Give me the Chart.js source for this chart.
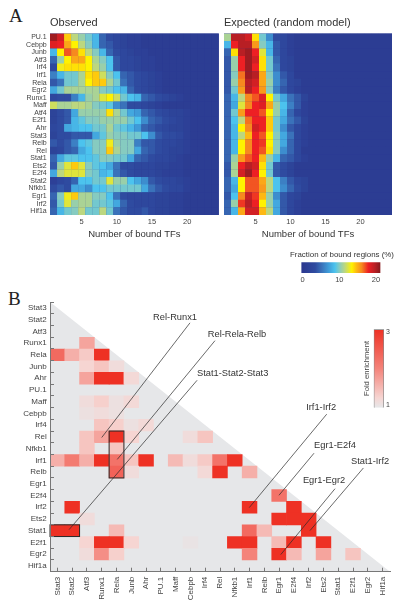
<!DOCTYPE html>
<html>
<head>
<meta charset="utf-8">
<script src="https://cdn.jsdelivr.net/npm/chart.js@4"></script>
<style>
  html, body { margin: 0; padding: 0; background: #fff; }
  body { position: relative; width: 402px; height: 609px; overflow: hidden; }
  canvas { position: absolute; }
  .letter { position: absolute; font-family: "Liberation Serif", serif; color: #222; line-height: 1; }
</style>
</head>
<body>
<div class="letter" style="left:9px;top:6px;font-size:19px">A</div>
<div class="letter" style="left:8px;top:289px;font-size:19px">B</div>
<canvas id="observed" width="222" height="226" style="left:0;top:14px"></canvas>
<canvas id="expected" width="180" height="226" style="left:222px;top:14px"></canvas>
<canvas id="fractionBar" width="120" height="38" style="left:282px;top:248px"></canvas>
<canvas id="enrichment" width="402" height="319" style="left:0;top:290px"></canvas>
<canvas id="foldBar" width="40" height="94" style="left:358px;top:322px"></canvas>
<script>
const FONT = 'Liberation Sans';
const TEXT = '#444';

// panel A
const tfRows = ['PU.1', 'Cebpb', 'Junb', 'Atf3', 'Irf4', 'Irf1', 'Rela', 'Egr2', 'Runx1', 'Maff', 'Atf4', 'E2f1',
  'Ahr', 'Stat3', 'Relb', 'Rel', 'Stat1', 'Ets2', 'E2f4', 'Stat2', 'Nfkb1', 'Egr1', 'Irf2', 'Hif1a'];
const boundTicks = [5, 10, 15, 20];

const observed = [
  [20.4, 18.8, 14.3, 11.5, 10.5, 9.6, 8.2, 4.6, 3.4, 2.7, 2, 1.4, 1.4, 0.7, 0.7, 0.7, 0.7, 0.7, 0.7, 0.7, 0.7, 0.7, 0.7, 0.7],
  [18.4, 17.9, 15.2, 13.4, 11.5, 10, 8.2, 4.6, 4, 2.7, 2, 1.4, 1.4, 0.7, 0.7, 0.7, 0.7, 0.7, 0.7, 0.7, 0.7, 0.7, 0.7, 0.7],
  [8.2, 13.4, 17, 16.1, 13.8, 11.5, 10, 8.2, 4.6, 3.4, 2.7, 2, 1.4, 1.4, 0.7, 0.7, 0.7, 0.7, 0.7, 0.7, 0.7, 0.7, 0.7, 0.7],
  [4.6, 10.5, 13.4, 15.2, 15.2, 13.4, 11, 10, 8.8, 4, 2.7, 2.7, 2, 1.4, 1.4, 0.7, 0.7, 0.7, 0.7, 0.7, 0.7, 0.7, 0.7, 0.7],
  [2.7, 13, 13.8, 13.8, 13.8, 13.4, 11.5, 10.5, 8.8, 4, 2.7, 2.7, 2, 1.4, 1.4, 0.7, 0.7, 0.7, 0.7, 0.7, 0.7, 0.7, 0.7, 0.7],
  [5.8, 8.2, 9.6, 9.6, 11, 13.8, 14.3, 12, 10, 8.8, 4.6, 4, 3.4, 2.7, 2, 1.4, 0.7, 0.7, 0.7, 0.7, 0.7, 0.7, 0.7, 0.7],
  [4, 5.2, 9.6, 9.6, 11, 13.4, 14.3, 14.3, 11, 9.6, 5.2, 4, 3.4, 2.7, 2, 1.4, 0.7, 0.7, 0.7, 0.7, 0.7, 0.7, 0.7, 0.7],
  [7.6, 9.6, 11, 11, 11, 11, 11, 10, 9.6, 8.8, 8.2, 4.6, 3.4, 2.7, 2, 1.4, 0.7, 0.7, 0.7, 0.7, 0.7, 0.7, 0.7, 0.7],
  [2.7, 3.4, 3.4, 5.8, 8.2, 10.5, 11, 12.5, 13.4, 12, 9.6, 8.8, 8.2, 4.6, 4, 3.4, 2.7, 2, 1.4, 0.7, 0.7, 0.7, 0.7, 0.7],
  [12, 11, 11, 11.5, 11.5, 11, 10, 9.6, 9.2, 6.4, 5.2, 3.4, 3.4, 2.7, 2, 1.4, 0.7, 0.7, 0.7, 0.7, 0.7, 0.7, 0.7, 0.7],
  [2, 3.4, 4, 7.6, 10.5, 10.5, 10.5, 10.5, 13.8, 11, 9.6, 7.6, 7, 4.6, 4, 3.4, 2.7, 2, 2, 1.4, 0.7, 0.7, 0.7, 0.7],
  [2, 3.4, 4, 8.2, 9.2, 10, 10, 10.5, 10.5, 10.5, 10.5, 9.6, 8.8, 6.4, 4.6, 4, 3.4, 2.7, 2, 1.4, 0.7, 0.7, 0.7, 0.7],
  [2.7, 3.4, 7.6, 8.2, 8.8, 8.8, 9.6, 9.6, 11, 9.6, 9.2, 8.2, 7, 4.6, 4, 3.4, 2.7, 2, 2, 1.4, 0.7, 0.7, 0.7, 0.7],
  [2, 3.4, 3.4, 4, 4, 4, 7.6, 9.2, 10.5, 10, 10, 9.6, 9.6, 8.8, 6.4, 4, 3.4, 3.4, 2.7, 1.4, 0.7, 0.7, 0.7, 0.7],
  [4, 3.4, 4, 5.8, 8.8, 9.2, 10, 10, 13, 10.5, 10, 10, 5.8, 4, 4, 3.4, 2.7, 2.7, 2, 1.4, 0.7, 0.7, 0.7, 0.7],
  [2, 2.7, 4, 4.6, 7.6, 8.8, 10, 10, 14.3, 11, 10, 10, 7.6, 4.6, 4, 3.4, 2.7, 2, 2, 1.4, 0.7, 0.7, 0.7, 0.7],
  [4.6, 7.6, 9.2, 9.2, 8.8, 8.8, 9.2, 10, 10, 9.6, 9.6, 7.6, 4.6, 4, 3.4, 2.7, 2.7, 2, 1.4, 0.7, 0.7, 0.7, 0.7, 0.7],
  [4, 10.5, 12.5, 14.3, 12.5, 10, 9.2, 8.8, 7.6, 5.2, 3.4, 3.4, 2.7, 2.7, 2.7, 2, 2, 1.4, 1.4, 0.7, 0.7, 0.7, 0.7, 0.7],
  [7.6, 11.5, 12.5, 12.5, 12.5, 10, 9.6, 8.2, 8.8, 5.2, 4, 3.4, 2.7, 2.7, 2.7, 2, 1.4, 1.4, 1.4, 0.7, 0.7, 0.7, 0.7, 0.7],
  [1.4, 2.7, 3.4, 4.6, 8.8, 8.8, 9.6, 9.6, 12.5, 10.5, 10.5, 8.8, 7.6, 6.4, 4, 3.4, 2.7, 2.7, 2, 1.4, 0.7, 0.7, 0.7, 0.7],
  [3.4, 4, 3.4, 7.6, 7.6, 6.4, 8.8, 8.8, 9.6, 9.6, 9.6, 9.6, 9.6, 7.6, 5.2, 4, 3.4, 2.7, 2.7, 1.4, 0.7, 0.7, 0.7, 0.7],
  [4.6, 10, 13, 14.3, 11, 11, 10, 10, 8.8, 5.2, 3.4, 2.7, 2.7, 2.7, 2.7, 2, 2, 1.4, 1.4, 0.7, 0.7, 0.7, 0.7, 0.7],
  [4, 9.6, 12.5, 10.5, 11, 11, 9.6, 9.6, 9.2, 7.6, 4.6, 3.4, 2.7, 2.7, 2.7, 2, 2, 1.4, 1.4, 0.7, 0.7, 0.7, 0.7, 0.7],
  [4.6, 8.2, 9.6, 10, 11.5, 9.6, 9.6, 11.5, 9.6, 5.2, 4, 3.4, 3.4, 4, 2.7, 2, 2, 1.4, 1.4, 0.7, 0.7, 0.7, 0.7, 0.7]
];

const expected = [
  [11, 19.7, 19.7, 18.8, 13.8, 9.6, 6.4, 3.4, 2.7, 1.4, 0.7, 0.7, 0.7, 0.7, 0.7, 0.7, 0.7, 0.7, 0.7, 0.7, 0.7, 0.7, 0.7, 0.7],
  [8.2, 17.9, 19.7, 19.7, 15.6, 10, 8.2, 4, 2.7, 1.4, 0.7, 0.7, 0.7, 0.7, 0.7, 0.7, 0.7, 0.7, 0.7, 0.7, 0.7, 0.7, 0.7, 0.7],
  [4.6, 13.8, 19.7, 20.4, 17.9, 12.5, 8.2, 4, 2.7, 1.4, 0.7, 0.7, 0.7, 0.7, 0.7, 0.7, 0.7, 0.7, 0.7, 0.7, 0.7, 0.7, 0.7, 0.7],
  [4, 10.5, 17.9, 20.4, 18.8, 13.8, 9.6, 4.6, 2.7, 2, 0.7, 0.7, 0.7, 0.7, 0.7, 0.7, 0.7, 0.7, 0.7, 0.7, 0.7, 0.7, 0.7, 0.7],
  [4, 10.5, 17.9, 20.4, 17.9, 13.8, 9.6, 5.2, 2.7, 2, 0.7, 0.7, 0.7, 0.7, 0.7, 0.7, 0.7, 0.7, 0.7, 0.7, 0.7, 0.7, 0.7, 0.7],
  [4, 10, 16.5, 20.4, 19.7, 15.2, 10, 6.4, 4, 2.7, 0.7, 0.7, 0.7, 0.7, 0.7, 0.7, 0.7, 0.7, 0.7, 0.7, 0.7, 0.7, 0.7, 0.7],
  [4, 10.5, 16.1, 19.7, 18.8, 15.2, 10.5, 6.4, 4.6, 2.7, 2, 0.7, 0.7, 0.7, 0.7, 0.7, 0.7, 0.7, 0.7, 0.7, 0.7, 0.7, 0.7, 0.7],
  [4, 9.6, 15.6, 19.7, 17.9, 15.6, 10, 5.8, 4, 2.7, 1.4, 0.7, 0.7, 0.7, 0.7, 0.7, 0.7, 0.7, 0.7, 0.7, 0.7, 0.7, 0.7, 0.7],
  [4.6, 8.2, 11.5, 16.1, 17, 18.4, 13.4, 9.6, 7.6, 5.2, 4, 2, 0.7, 0.7, 0.7, 0.7, 0.7, 0.7, 0.7, 0.7, 0.7, 0.7, 0.7, 0.7],
  [4.6, 7.6, 12.5, 16.1, 17.9, 18.4, 15.2, 10.5, 8.8, 5.8, 4, 1.4, 0.7, 0.7, 0.7, 0.7, 0.7, 0.7, 0.7, 0.7, 0.7, 0.7, 0.7, 0.7],
  [4.6, 9.6, 15.6, 17.9, 17.9, 17, 13.4, 10.5, 8.2, 4.6, 2.7, 1.4, 0.7, 0.7, 0.7, 0.7, 0.7, 0.7, 0.7, 0.7, 0.7, 0.7, 0.7, 0.7],
  [4.6, 8.8, 11.5, 16.5, 17.9, 17.9, 14.3, 9.6, 7.6, 5.2, 4, 2, 0.7, 0.7, 0.7, 0.7, 0.7, 0.7, 0.7, 0.7, 0.7, 0.7, 0.7, 0.7],
  [4.6, 8.2, 13.4, 16.1, 18.8, 17.9, 14.3, 9.6, 6.4, 4, 2.7, 1.4, 0.7, 0.7, 0.7, 0.7, 0.7, 0.7, 0.7, 0.7, 0.7, 0.7, 0.7, 0.7],
  [4.6, 8.2, 11.5, 14.7, 17.9, 17, 13.4, 10, 7.6, 5.2, 2.7, 1.4, 0.7, 0.7, 0.7, 0.7, 0.7, 0.7, 0.7, 0.7, 0.7, 0.7, 0.7, 0.7],
  [4.6, 8.2, 13.4, 16.1, 17.9, 17.5, 13.4, 10, 7.6, 4.6, 2.7, 1.4, 0.7, 0.7, 0.7, 0.7, 0.7, 0.7, 0.7, 0.7, 0.7, 0.7, 0.7, 0.7],
  [4.6, 8.2, 13.4, 16.1, 17.9, 17, 13.8, 10, 6.4, 4.6, 2.7, 0.7, 0.7, 0.7, 0.7, 0.7, 0.7, 0.7, 0.7, 0.7, 0.7, 0.7, 0.7, 0.7],
  [4.6, 10.5, 15.6, 17, 17.9, 14.7, 10.5, 8.2, 4.6, 4, 2.7, 1.4, 0.7, 0.7, 0.7, 0.7, 0.7, 0.7, 0.7, 0.7, 0.7, 0.7, 0.7, 0.7],
  [4, 11, 17.9, 19.7, 18.8, 13.8, 9.6, 4, 3.4, 2, 0.7, 0.7, 0.7, 0.7, 0.7, 0.7, 0.7, 0.7, 0.7, 0.7, 0.7, 0.7, 0.7, 0.7],
  [4, 11, 18.8, 20.4, 17.9, 13.4, 9.6, 4, 3.4, 2, 0.7, 0.7, 0.7, 0.7, 0.7, 0.7, 0.7, 0.7, 0.7, 0.7, 0.7, 0.7, 0.7, 0.7],
  [4.6, 8.2, 13.4, 17, 17, 15.2, 11.5, 8.8, 5.8, 4, 2.7, 2, 0.7, 0.7, 0.7, 0.7, 0.7, 0.7, 0.7, 0.7, 0.7, 0.7, 0.7, 0.7],
  [4.6, 7.6, 13.4, 17, 17, 15.6, 11.5, 8.8, 6.4, 4.6, 3.4, 2, 0.7, 0.7, 0.7, 0.7, 0.7, 0.7, 0.7, 0.7, 0.7, 0.7, 0.7, 0.7],
  [4, 8.8, 16.1, 19.2, 17.5, 14.7, 10.5, 6.4, 4, 2.7, 2, 0.7, 0.7, 0.7, 0.7, 0.7, 0.7, 0.7, 0.7, 0.7, 0.7, 0.7, 0.7, 0.7],
  [4.6, 10.5, 17.5, 19.7, 17.9, 13.4, 10.5, 7.6, 4, 2.7, 1.4, 0.7, 0.7, 0.7, 0.7, 0.7, 0.7, 0.7, 0.7, 0.7, 0.7, 0.7, 0.7, 0.7],
  [4.6, 8.2, 15.2, 18.8, 18.8, 14.7, 11.5, 7.6, 4, 2.7, 1.4, 0.7, 0.7, 0.7, 0.7, 0.7, 0.7, 0.7, 0.7, 0.7, 0.7, 0.7, 0.7, 0.7]
];

// panel B
const pairTfs = ['Stat3', 'Stat2', 'Atf3', 'Runx1', 'Rela', 'Junb', 'Ahr', 'PU.1', 'Maff', 'Cebpb', 'Irf4', 'Rel',
  'Nfkb1', 'Irf1', 'Relb', 'Egr1', 'E2f4', 'Irf2', 'Ets2', 'Stat1', 'E2f1', 'Egr2', 'Hif1a'];

// [row tf, column tf, fold enrichment]
const enrichedPairs = [
  ['Runx1', 'Atf3', 1.7],
  ['Rela', 'Stat3', 2.3], ['Rela', 'Stat2', 1.6], ['Rela', 'Atf3', 1.35], ['Rela', 'Runx1', 3],
  ['Junb', 'Atf3', 1.25], ['Junb', 'Runx1', 1.4], ['Junb', 'Rela', 1.15],
  ['Ahr', 'Atf3', 1.7], ['Ahr', 'Runx1', 3], ['Ahr', 'Rela', 3], ['Ahr', 'Junb', 1.2],
  ['Maff', 'Atf3', 1.15], ['Maff', 'Runx1', 1.3], ['Maff', 'Rela', 1.1], ['Maff', 'Junb', 1.2],
  ['Cebpb', 'Atf3', 1.1], ['Cebpb', 'Runx1', 1.15], ['Cebpb', 'Rela', 1.1],
  ['Irf4', 'Runx1', 1.4], ['Irf4', 'Rela', 1.3], ['Irf4', 'Junb', 1.1], ['Irf4', 'Ahr', 1.2],
  ['Rel', 'Atf3', 1.4], ['Rel', 'Runx1', 1.7], ['Rel', 'Rela', 3], ['Rel', 'Junb', 1.25], ['Rel', 'Cebpb', 1.15], ['Rel', 'Irf4', 1.4],
  ['Nfkb1', 'Atf3', 1.4], ['Nfkb1', 'Rela', 1.4],
  ['Irf1', 'Stat3', 1.6], ['Irf1', 'Stat2', 2.1], ['Irf1', 'Atf3', 1.6], ['Irf1', 'Runx1', 3], ['Irf1', 'Rela', 2.2], ['Irf1', 'Junb', 1.4],
  ['Irf1', 'Ahr', 3], ['Irf1', 'Maff', 1.5], ['Irf1', 'Cebpb', 1.15], ['Irf1', 'Irf4', 1.35], ['Irf1', 'Rel', 2.2], ['Irf1', 'Nfkb1', 3],
  ['Relb', 'Rela', 2.4], ['Relb', 'Junb', 1.15], ['Relb', 'Irf4', 1.2], ['Relb', 'Rel', 3], ['Relb', 'Irf1', 1.6],
  ['E2f4', 'Egr1', 2.2],
  ['Irf2', 'Stat2', 3], ['Irf2', 'Irf1', 3], ['Irf2', 'E2f4', 3],
  ['Ets2', 'Atf3', 1.15], ['Ets2', 'Egr1', 3], ['Ets2', 'E2f4', 3], ['Ets2', 'Irf2', 3],
  ['Stat1', 'Stat3', 3], ['Stat1', 'Stat2', 3], ['Stat1', 'Rela', 1.5], ['Stat1', 'Irf1', 2.3], ['Stat1', 'Relb', 1.5], ['Stat1', 'Irf2', 3],
  ['E2f1', 'Atf3', 1.25], ['E2f1', 'Runx1', 3], ['E2f1', 'Rela', 3], ['E2f1', 'Junb', 1.25], ['E2f1', 'Cebpb', 1.05], ['E2f1', 'Nfkb1', 3],
  ['E2f1', 'Irf1', 3], ['E2f1', 'Egr1', 1.5], ['E2f1', 'E2f4', 3], ['E2f1', 'Ets2', 3],
  ['Egr2', 'Atf3', 1.15], ['Egr2', 'Runx1', 1.9], ['Egr2', 'Rela', 1.3], ['Egr2', 'Irf1', 2], ['Egr2', 'Egr1', 3], ['Egr2', 'E2f4', 1.5],
  ['Egr2', 'Ets2', 1.7], ['Egr2', 'E2f1', 1.4]
];

// outlined groups: [first column, last column, first row, last row]
const outlinedGroups = [
  ['Rela', 'Rela', 'Rel', 'Relb'],
  ['Stat3', 'Stat2', 'Stat1', 'Stat1']
];

// callouts, in cell units of the matrix: label, label centre, leader start, leader end
const callouts = [
  ['Rel-Runx1', 7.96, 0.77, 3.0, 11.05, 8.97, 1.27],
  ['Rel-Rela-Relb', 12.15, 2.28, 4.05, 12.92, 10.66, 2.79],
  ['Stat1-Stat2-Stat3', 11.86, 5.58, 0.79, 18.91, 9.45, 6.17],
  ['Irf1-Irf2', 17.84, 8.5, 12.98, 17.03, 18.22, 9.06],
  ['Egr1-E2f4', 18.78, 11.76, 14.99, 15.98, 17.36, 12.39],
  ['Egr1-Egr2', 18.04, 14.69, 15.11, 21.04, 18.78, 15.42],
  ['Stat1-Irf2', 21.15, 13.09, 17.09, 18.99, 20.7, 13.65]
];

// colour scales
const heatStops = [
  [0, '#2b3990'], [3.4, '#2f4ba0'], [5.2, '#3a72ba'], [7, '#3f9bd8'], [8.8, '#4cc3ee'], [10, '#86cbc0'],
  [11.5, '#bcd77f'], [13.4, '#fff200'], [14.7, '#fdb813'], [16.1, '#f6891f'], [17.9, '#ed2024'], [19.7, '#b81f24'], [21, '#8a1a1e']
];
const foldStops = [[1, '#e6e7e9'], [1.25, '#f6d5d2'], [2, '#f4837a'], [3, '#ee3124']];

function hexToRgb(hex) {
  return [1, 3, 5].map(i => parseInt(hex.slice(i, i + 2), 16));
}

function colorAt(stops, v) {
  let i = 1;
  while (i < stops.length - 1 && v > stops[i][0]) i++;
  const [v0, c0] = stops[i - 1];
  const [v1, c1] = stops[i];
  const t = Math.min(1, Math.max(0, (v - v0) / (v1 - v0)));
  const a = hexToRgb(c0);
  const b = hexToRgb(c1);
  return `rgb(${a.map((x, k) => Math.round(x + (b[k] - x) * t)).join(',')})`;
}

// paints the plot area first, so cell seams don't show up white
const plotBackground = {
  id: 'plotBackground',
  beforeDatasetsDraw(chart) {
    const { ctx, chartArea: a } = chart;
    ctx.save();
    ctx.fillStyle = '#2b3990';
    ctx.fillRect(a.left, a.top, a.right - a.left, a.bottom - a.top);
    ctx.restore();
  }
};

function heatChart(id, rows, showLabels, title, leftPad, rightPad) {
  const cells = [];
  const colors = [];
  rows.forEach((row, r) => row.forEach((v, c) => {
    cells.push({ x: [c + 0.5, c + 1.52], y: tfRows[r] });
    colors.push(colorAt(heatStops, v));
  }));
  return new Chart(document.getElementById(id), {
    type: 'bar',
    data: { labels: tfRows, datasets: [{ data: cells, backgroundColor: colors, borderWidth: 0, barPercentage: 1.04, categoryPercentage: 1 }] },
    plugins: [plotBackground],
    options: {
      indexAxis: 'y',
      responsive: false,
      animation: false,
      layout: { padding: { left: leftPad, right: rightPad } },
      plugins: {
        legend: { display: false },
        tooltip: { enabled: false },
        title: {
          display: true, text: title, align: 'start', fullSize: false, color: '#333',
          font: { family: FONT, size: 11, weight: 'normal' }, padding: { top: 2.4, bottom: 3.9 }
        }
      },
      scales: {
        x: {
          type: 'linear', min: 0.5, max: 24.5,
          afterBuildTicks: s => { s.ticks = boundTicks.map(v => ({ value: v })); },
          afterFit: s => { s.height = 25; },
          grid: { display: false, drawTicks: false },
          border: { display: false },
          ticks: { color: TEXT, font: { family: FONT, size: 7.5 }, padding: 2, maxRotation: 0 },
          title: { display: true, text: 'Number of bound TFs', color: '#333', font: { family: FONT, size: 9.5 }, padding: { top: 3, bottom: 0 } }
        },
        y: {
          display: showLabels,
          afterFit: s => { s.width = showLabels ? 50 : 0; },
          grid: { display: false, drawTicks: false },
          border: { display: false },
          ticks: { color: TEXT, autoSkip: false, font: { family: FONT, size: 7 }, padding: 3.3 }
        }
      }
    }
  });
}

heatChart('observed', observed, true, 'Observed', 0, 3.2);
heatChart('expected', expected, false, 'Expected (random model)', 2, 10);

// horizontal colour bar for panel A; the scale runs past the bar so the title has the whole canvas
new Chart(document.getElementById('fractionBar'), {
  type: 'bar',
  data: {
    labels: [''],
    datasets: [{
      data: [[-0.27, 21.1]],
      borderWidth: 0,
      barPercentage: 1,
      categoryPercentage: 1,
      backgroundColor(ctx) {
        const x = ctx.chart.scales.x;
        const x0 = x ? x.getPixelForValue(-0.27) : NaN;
        const x1 = x ? x.getPixelForValue(21.1) : NaN;
        if (!Number.isFinite(x0) || !Number.isFinite(x1)) return '#2b3990';
        const g = ctx.chart.ctx.createLinearGradient(x0, 0, x1, 0);
        heatStops.forEach(([v, c]) => g.addColorStop(Math.min(1, (v + 0.27) / 21.37), c));
        return g;
      }
    }]
  },
  options: {
    indexAxis: 'y',
    responsive: false,
    animation: false,
    plugins: {
      legend: { display: false },
      tooltip: { enabled: false },
      title: {
        display: true, text: 'Fraction of bound regions (%)', color: '#333',
        font: { family: FONT, size: 7.9, weight: 'normal' }, padding: { top: 2.4, bottom: 2.4 }
      }
    },
    scales: {
      x: {
        type: 'linear', min: -5.65, max: 27.1,
        afterBuildTicks: s => { s.ticks = [0, 10, 20].map(v => ({ value: v })); },
        afterFit: s => { s.height = 13; },
        grid: { display: false, drawTicks: false },
        border: { display: false },
        ticks: { color: TEXT, font: { family: FONT, size: 7.5 }, padding: 2, maxRotation: 0 }
      },
      y: { display: false }
    }
  }
});

// triangle background, outlines and callouts of the matrix, all placed through its scales
const matrixDecor = {
  id: 'matrixDecor',
  beforeDraw(chart) {
    const { ctx, scales: { x, y } } = chart;
    ctx.save();
    ctx.fillStyle = '#e6e7e9';
    ctx.beginPath();
    ctx.moveTo(x.getPixelForValue(-0.5), y.getPixelForValue(-0.5));
    ctx.lineTo(x.getPixelForValue(22.5), y.getPixelForValue(22.5));
    ctx.lineTo(x.getPixelForValue(-0.5), y.getPixelForValue(22.5));
    ctx.closePath();
    ctx.fill();
    ctx.restore();
  },
  afterDatasetsDraw(chart) {
    const { ctx, scales: { x, y } } = chart;
    ctx.save();
    ctx.strokeStyle = '#2a2a2a';
    ctx.lineWidth = 1;
    outlinedGroups.forEach(([c0, c1, r0, r1]) => {
      const left = x.getPixelForValue(pairTfs.indexOf(c0) - 0.5);
      const right = x.getPixelForValue(pairTfs.indexOf(c1) + 0.5);
      const top = y.getPixelForValue(pairTfs.indexOf(r0) - 0.5);
      const bottom = y.getPixelForValue(pairTfs.indexOf(r1) + 0.5);
      ctx.strokeRect(left, top, right - left, bottom - top);
    });
    ctx.lineWidth = 0.7;
    ctx.fillStyle = '#333';
    ctx.font = `9.3px "${FONT}"`;
    ctx.textAlign = 'center';
    ctx.textBaseline = 'middle';
    callouts.forEach(([label, tx, ty, x0, y0, x1, y1]) => {
      ctx.beginPath();
      ctx.moveTo(x.getPixelForValue(x0), y.getPixelForValue(y0));
      ctx.lineTo(x.getPixelForValue(x1), y.getPixelForValue(y1));
      ctx.stroke();
      ctx.fillText(label, x.getPixelForValue(tx), y.getPixelForValue(ty));
    });
    ctx.restore();
  }
};

new Chart(document.getElementById('enrichment'), {
  type: 'bar',
  data: {
    labels: pairTfs,
    datasets: [{
      data: enrichedPairs.map(([r, c]) => {
        const i = pairTfs.indexOf(c);
        return { x: [i - 0.5, i + 0.5], y: r };
      }),
      backgroundColor: enrichedPairs.map(p => colorAt(foldStops, p[2])),
      borderWidth: 0,
      barPercentage: 1,
      categoryPercentage: 1
    }]
  },
  plugins: [matrixDecor],
  options: {
    indexAxis: 'y',
    responsive: false,
    animation: false,
    layout: { padding: { top: 9, right: 12 } },
    plugins: { legend: { display: false }, tooltip: { enabled: false } },
    scales: {
      x: {
        type: 'linear', min: -0.5, max: 22.5,
        afterBuildTicks: s => { s.ticks = pairTfs.map((_, i) => ({ value: i })); },
        afterFit: s => { s.height = 319 - 9 - 272.7; },
        grid: { drawOnChartArea: false, tickLength: -4, tickColor: '#777', z: 1 },
        border: { color: '#777', z: 1 },
        ticks: {
          color: TEXT, autoSkip: false, minRotation: 90, maxRotation: 90, padding: 9,
          font: { family: FONT, size: 8 },
          callback: v => pairTfs[v]
        }
      },
      y: {
        afterFit: s => { s.width = 50; },
        grid: { drawOnChartArea: false, tickLength: -4, tickColor: '#777', z: 1 },
        border: { color: '#777', z: 1 },
        ticks: { color: TEXT, autoSkip: false, padding: 7.3, font: { family: FONT, size: 8 } }
      }
    }
  }
});

// vertical colour bar for panel B
new Chart(document.getElementById('foldBar'), {
  type: 'bar',
  data: {
    labels: [''],
    datasets: [{
      data: [[0.94, 3.07]],
      borderWidth: 1,
      borderColor: '#888',
      barPercentage: 1,
      categoryPercentage: 1,
      backgroundColor(ctx) {
        const a = ctx.chart.chartArea;
        if (!a) return '#ee3124';
        const g = ctx.chart.ctx.createLinearGradient(0, a.bottom, 0, a.top);
        foldStops.forEach(([v, c]) => g.addColorStop((v - 1) / 2, c));
        return g;
      }
    }]
  },
  options: {
    responsive: false,
    animation: false,
    layout: { padding: { top: 7.3, bottom: 8.3 } },
    plugins: { legend: { display: false }, tooltip: { enabled: false } },
    scales: {
      x: { display: false },
      y: {
        position: 'right',
        min: 0.94, max: 3.07,
        afterBuildTicks: s => { s.ticks = [1, 3].map(v => ({ value: v })); },
        afterFit: s => { s.width = 14; },
        grid: { display: false, drawTicks: false },
        border: { display: false },
        ticks: { color: TEXT, padding: 2, font: { family: FONT, size: 7 } }
      },
      yName: {
        position: 'left',
        afterFit: s => { s.width = 15.7; },
        grid: { display: false, drawTicks: false },
        border: { display: false },
        ticks: { display: false },
        title: { display: true, text: 'Fold enrichment', color: TEXT, font: { family: FONT, size: 7.7 }, padding: { top: 4.5, bottom: 0 } }
      }
    }
  }
});
</script>
</body>
</html>
